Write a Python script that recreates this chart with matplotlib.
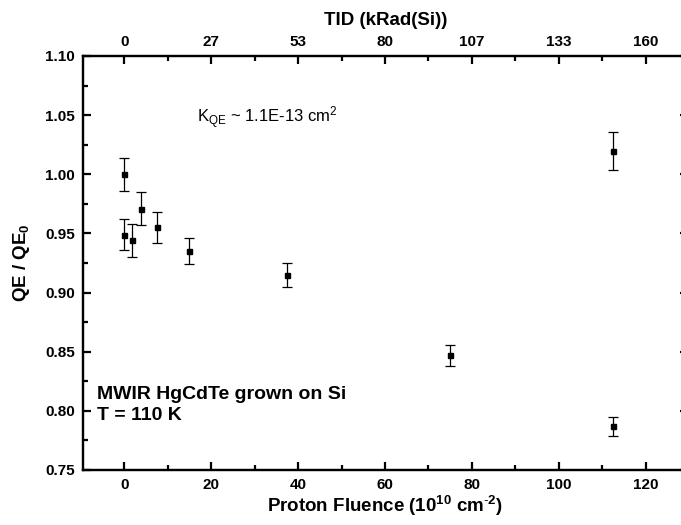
import matplotlib
matplotlib.use("Agg")
import matplotlib.pyplot as plt
from matplotlib.ticker import MultipleLocator, FixedLocator, FormatStrFormatter

plt.rcParams['font.family'] = ['Liberation Sans', 'DejaVu Sans']
plt.rcParams['mathtext.fontset'] = 'custom'
plt.rcParams['mathtext.rm'] = 'Liberation Sans'
plt.rcParams['mathtext.bf'] = 'Liberation Sans:bold'
plt.rcParams['mathtext.it'] = 'Liberation Sans:italic'

# proton fluence (1e10 cm^-2) and normalised quantum efficiency
fluence = [0, 0, 1.875, 3.75, 7.5, 15, 37.5, 75, 112.5, 112.5]
qe_ratio = [1.000, 0.949, 0.944, 0.971, 0.955, 0.935, 0.915, 0.847, 0.787, 1.020]
qe_err = [0.014, 0.013, 0.014, 0.014, 0.013, 0.011, 0.010, 0.009, 0.008, 0.016]

fluence_ticks = [0, 20, 40, 60, 80, 100, 120]
tid_labels = ["0", "27", "53", "80", "107", "133", "160"]

TICK_FS = 11
LABEL_FS = 13.5

fig = plt.figure(figsize=(6.81, 5.25), dpi=100)
ax = fig.add_axes([0.1219, 0.1048, 0.888, 0.7886])

ax.errorbar(fluence, qe_ratio, yerr=qe_err, fmt='s', color='black',
            markersize=3.6, elinewidth=0.9, capsize=3.4, capthick=0.9,
            ecolor='black')

ax.set_xlim(-9.5, 129.7)
ax.set_ylim(0.75, 1.10)
ax.xaxis.set_major_locator(FixedLocator(fluence_ticks))
ax.xaxis.set_minor_locator(MultipleLocator(10))
ax.yaxis.set_major_locator(MultipleLocator(0.05))
ax.yaxis.set_minor_locator(MultipleLocator(0.025))
ax.yaxis.set_major_formatter(FormatStrFormatter('%.2f'))

for s in ax.spines.values():
    s.set_linewidth(1.6)
ax.tick_params(which='both', direction='in', top=False, right=True, width=1.6)
ax.tick_params(which='major', length=6, labelsize=TICK_FS, pad=6)
ax.tick_params(which='minor', length=3.5)
for lab in ax.get_xticklabels() + ax.get_yticklabels():
    lab.set_fontweight('bold')

# top axis: total ionising dose equivalent
top = ax.twiny()
top.set_xlim(ax.get_xlim())
top.xaxis.set_major_locator(FixedLocator(fluence_ticks))
top.xaxis.set_minor_locator(MultipleLocator(10))
top.set_xticklabels(tid_labels, fontweight='bold', fontsize=TICK_FS)
top.tick_params(which='both', direction='in', width=1.6)
top.tick_params(which='major', length=6, pad=5)
top.tick_params(which='minor', length=3.5)
for s in top.spines.values():
    s.set_linewidth(1.6)
top.set_xlabel("TID (kRad(Si))", fontweight='bold', fontsize=LABEL_FS, labelpad=7)

ax.set_xlabel(r"Proton Fluence (10$^{\mathbf{10}}$ cm$^{\text{-}\mathbf{2}}$)",
              fontweight='bold', fontsize=LABEL_FS, labelpad=1)
ax.set_ylabel(r"QE / QE$_{\mathbf{0}}$", fontweight='bold', fontsize=LABEL_FS, labelpad=9)

ax.text(16.8, 1.048, r"K$_{\mathrm{QE}}$ ~ 1.1E-13 cm$^{\mathrm{2}}$", fontsize=12,
        va='center', ha='left')
ax.text(-6.2, 0.805, "MWIR HgCdTe grown on Si\nT = 110 K", fontsize=14,
        fontweight='bold', va='center', ha='left', linespacing=1.35)

fig.savefig("out.png", dpi=100)
